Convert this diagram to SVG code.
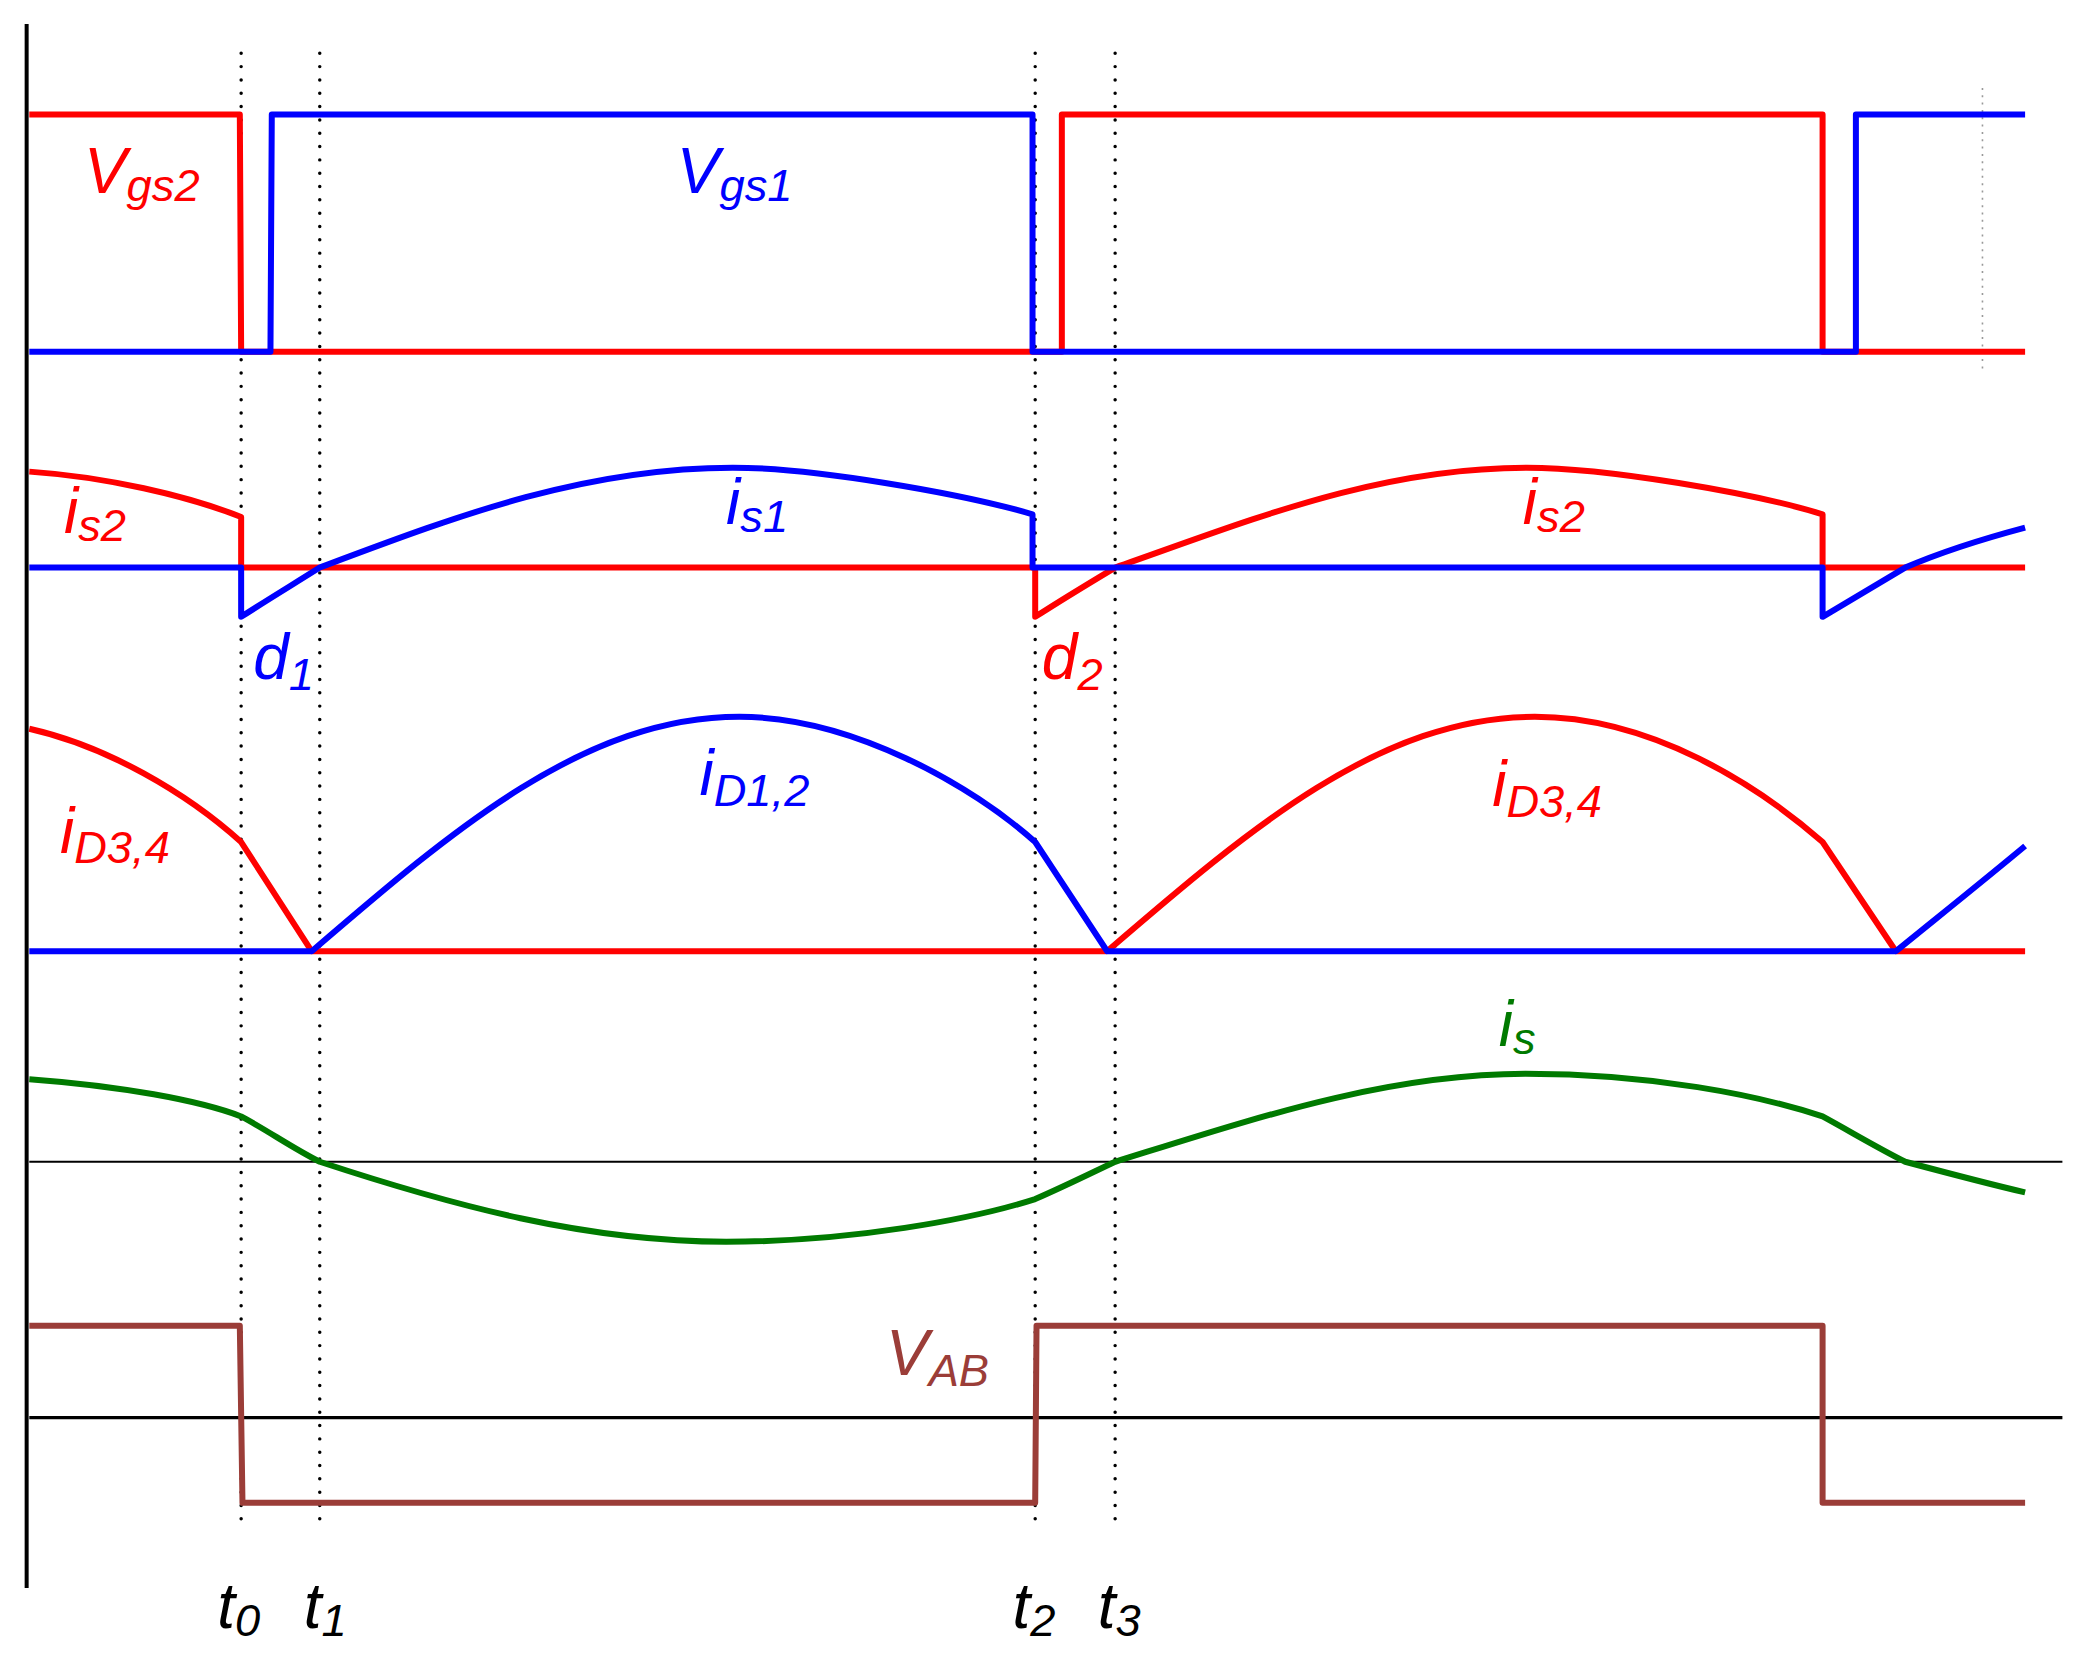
<svg xmlns="http://www.w3.org/2000/svg" width="2089" height="1659" viewBox="0 0 2089 1659">
<style>
.w{fill:none;stroke-width:4.5;stroke-linejoin:round}
.r{stroke:#ff0000}.b{stroke:#0000ff}.g{stroke:#007a00}.br{stroke:#9b3d38}
.dot{fill:none;stroke:#000;stroke-width:2.6;stroke-dasharray:0 10;stroke-linecap:round}
text{font-family:"Liberation Sans",Arial,sans-serif;font-style:italic;font-size:48px}
.s{font-size:34px}
</style>
<rect width="2089" height="1659" fill="#fff"/>
<g transform="scale(1.3323)">
<g id="axes">
<line x1="20" y1="18" x2="20" y2="1192" stroke="#000" stroke-width="3"/>
<line x1="22" y1="872" x2="1548" y2="872" stroke="#000" stroke-width="1.5"/>
<line x1="22" y1="1064" x2="1548" y2="1064" stroke="#000" stroke-width="2.5"/>
<line x1="1488" y1="66" x2="1488" y2="280" stroke="#999" stroke-width="1.2" stroke-dasharray="1.5 4"/>
</g>
<g id="connectors">
<line class="dot" x1="181" y1="40" x2="181" y2="1150"/>
<line class="dot" x1="240" y1="40" x2="240" y2="1150"/>
<line class="dot" x1="777" y1="40" x2="777" y2="1150"/>
<line class="dot" x1="837" y1="40" x2="837" y2="1150"/>
</g>
<g id="vgs">
<path class="w r" d="M22,86 H180 L181,264 H797 V86 H1368 V264 H1520"/>
<path class="w b" d="M22,264 H203 L204,86 H775 V264 H1393 V86 H1520"/>
<text x="63" y="145" fill="#ff0000">V<tspan class="s" dy="6">gs2</tspan></text>
<text x="508" y="145" fill="#0000ff">V<tspan class="s" dy="6">gs1</tspan></text>
</g>
<g id="is">
<path class="w r" d="M22,354 C80,358 140,372 181,388 L181,426 H777 M777,426 L777,463 C797,450 817,438 837,426 C940,390 1034,351 1146,351 C1206,351 1316,370 1368,386 L1368,426 H1520"/>
<path class="w b" d="M22,426 H181 L181,463 C201,450 221,438 240,426 C344,387 438,351 550,351 C610,351 720,370 775,386 L775,426 H1368 L1368,463 C1390,450 1410,438 1430,426 C1460,413 1490,404 1520,396"/>
<text x="48" y="400" fill="#ff0000">i<tspan class="s" dy="6">s2</tspan></text>
<text x="545" y="393" fill="#0000ff">i<tspan class="s" dy="6">s1</tspan></text>
<text x="1143" y="393" fill="#ff0000">i<tspan class="s" dy="6">s2</tspan></text>
<text x="190" y="510" fill="#0000ff">d<tspan class="s" dy="8">1</tspan></text>
<text x="782" y="510" fill="#ff0000">d<tspan class="s" dy="8">2</tspan></text>
</g>
<g id="id">
<path class="w r" d="M22,547 C80,560 140,595 181,632 L234,714 H831 M831,714 C938,622 1036,538 1152,538 C1240,538 1320,590 1368,632 L1423,714 H1520"/>
<path class="w b" d="M22,714 H234 C341,622 439,538 555,538 C640,538 730,590 777,632 L831,714 H1423 C1455,688 1490,660 1520,635"/>
<text x="45" y="640" fill="#ff0000">i<tspan class="s" dy="8">D3,4</tspan></text>
<text x="525" y="597" fill="#0000ff">i<tspan class="s" dy="8">D1,2</tspan></text>
<text x="1120" y="605" fill="#ff0000">i<tspan class="s" dy="8">D3,4</tspan></text>
</g>
<g id="isum">
<path class="w g" d="M22,810 C90,815 150,826 181,838 C200,848 220,862 240,872 C340,905 440,932 545,932 C640,932 730,915 777,900 C800,890 820,880 837,872 C940,840 1040,806 1145,806 C1240,806 1320,822 1368,838 C1390,850 1410,862 1430,872 C1460,880 1490,888 1520,895"/>
<text x="1125" y="785" fill="#007a00">i<tspan class="s" dy="6">s</tspan></text>
</g>
<g id="vab">
<path class="w br" d="M22,995 H180 L182,1128 H777 L778,995 H1368 V1128 H1520"/>
<text x="665" y="1032" fill="#9b3d38">V<tspan class="s" dy="8">AB</tspan></text>
</g>
<g id="tlabels">
<text x="163" y="1222">t<tspan class="s" dy="6">0</tspan></text>
<text x="228" y="1222">t<tspan class="s" dy="6">1</tspan></text>
<text x="760" y="1222">t<tspan class="s" dy="6">2</tspan></text>
<text x="824" y="1222">t<tspan class="s" dy="6">3</tspan></text>
</g>
</g>
</svg>
